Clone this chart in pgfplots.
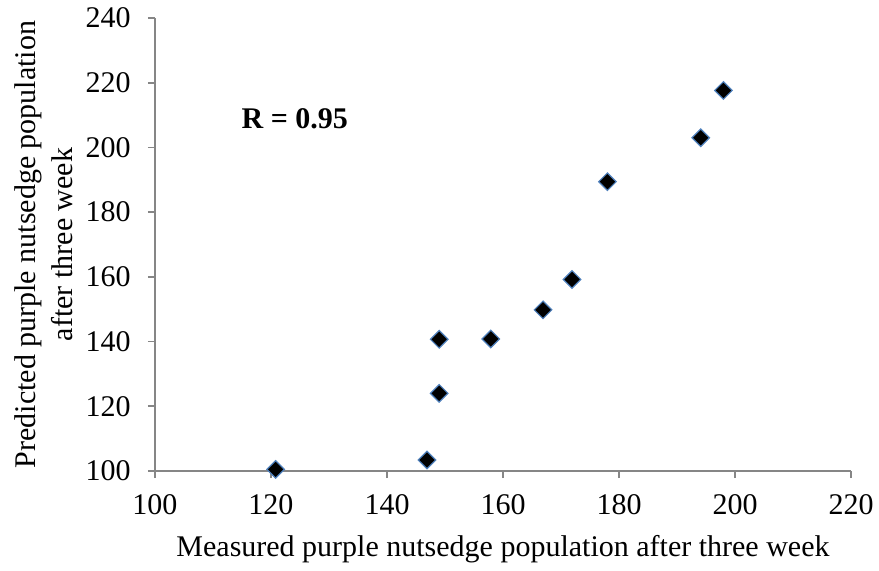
\documentclass[border=0pt]{standalone}
\usepackage{pgfplots}
\pgfplotsset{compat=1.18}
\usepackage{fontspec}
\setmainfont{Liberation Serif}
\definecolor{axgray}{RGB}{134,134,134}
\definecolor{mkblue}{RGB}{79,129,189}
\begin{document}
\begin{tikzpicture}
\path[use as bounding box] (-77.5pt,-50pt) rectangle (362pt,235.5pt);
\begin{axis}[
  at={(0pt,0pt)}, anchor=origin,
  scale only axis,
  width=348pt, height=226.5pt,
  xmin=100, xmax=220, ymin=100, ymax=240,
  xtick={100,120,...,220}, ytick={100,120,...,240},
  axis x line*=bottom, axis y line*=left,
  axis line style={axgray, line width=0.9pt, -},
  tick style={axgray, line width=0.9pt},
  tick align=outside, major tick length=3.6pt,
  every tick label/.append style={font=\fontsize{15}{17}\selectfont, text=black},
  yticklabel style={xshift=-5pt},
  xticklabel style={yshift=-4.5pt},
  /pgf/number format/assume math mode=true,
  /pgf/number format/1000 sep={},
  xlabel={Measured purple nutsedge population after three week},
  ylabel={Predicted purple nutsedge population\\after three week},
  label style={font=\fontsize{15}{18.5}\selectfont},
  ylabel style={align=center, anchor=center, at={(-0.16,0.5)}},
  xlabel style={anchor=center, at={(0.5,-0.172)}},
  clip=false,
]
\addplot[only marks, mark=square*, mark size=3.1pt,
  mark options={rotate=45, fill=black, draw=mkblue, line width=0.6pt}]
coordinates {
(120.8,100.5)
(146.9,103.4)
(149.0,124.0)
(149.0,140.7)
(157.9,140.8)
(166.9,149.8)
(171.9,159.2)
(178.0,189.4)
(194.1,203.0)
(198.0,217.6)
};
\node[font=\fontsize{15}{17}\selectfont\bfseries] at (axis cs:124.1,209) {R = 0.95};
\end{axis}
\end{tikzpicture}
\end{document}
